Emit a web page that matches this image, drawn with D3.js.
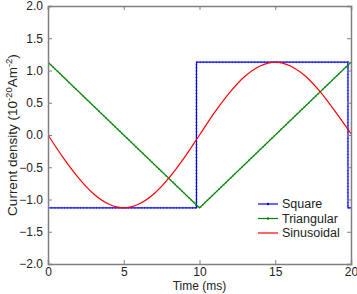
<!DOCTYPE html>
<html>
<head>
<meta charset="utf-8">
<script src="https://cdn.jsdelivr.net/npm/d3@7"></script>
<style>
  body { margin: 0; background: #fff; }
  text { font-family: "Liberation Sans", Arial, sans-serif; fill: #222; }
</style>
</head>
<body>
<svg id="chart" width="357" height="294"></svg>
<script>
// data
var squareT = [0, 9.8, 9.8, 19.8, 19.8, 20];
var squareV = [-1.13, -1.13, 1.13, 1.13, -1.13, -1.13];
var triT = [0, 10, 20];
var triV = [1.13, -1.13, 1.13];
var sinT = [0,1,2,3,4,5,6,7,8,9,10,11,12,13,14,15,16,17,18,19,20];
var sinV = [0,-0.35,-0.66,-0.91,-1.07,-1.13,-1.07,-0.91,-0.66,-0.35,0,0.35,0.66,0.91,1.07,1.13,1.07,0.91,0.66,0.35,0.02];
var xTicks = [0, 5, 10, 15, 20];
var yTicks = [-2, -1.5, -1, -0.5, 0, 0.5, 1, 1.5, 2];
var names = ["Square", "Triangular", "Sinusoidal"];
var colors = ["#0000ff", "#008000", "#ff0000"];

var svg = d3.select("#chart"),
  margin = {top: 6, right: 6, bottom: 30, left: 48},
  width = +svg.attr("width") - margin.left - margin.right,
  height = +svg.attr("height") - margin.top - margin.bottom;

var x = d3.scaleLinear().domain([0, 20]).range([0, width]);
var y = d3.scaleLinear().domain([-2, 2]).range([height, 0]);

var g = svg.append("g").attr("transform", "translate(" + margin.left + "," + margin.top + ")");

// clip
svg.append("defs").append("clipPath").attr("id", "clip")
  .append("rect").attr("width", width).attr("height", height);

var line = d3.line().x(function(d) { return x(d[0]); }).y(function(d) { return y(d[1]); });
var curve = d3.line().curve(d3.curveMonotoneX).x(function(d) { return x(d[0]); }).y(function(d) { return y(d[1]); });

var series = [
  {pts: d3.zip(squareT, squareV), gen: line},
  {pts: d3.zip(triT, triV), gen: line},
  {pts: d3.zip(sinT, sinV), gen: curve}
];

var plot = g.append("g").attr("clip-path", "url(#clip)");
series.forEach(function(s, i) {
  plot.append("path")
    .attr("d", s.gen(s.pts))
    .attr("fill", "none")
    .attr("stroke", colors[i])
    .attr("stroke-width", 1.2);
  if (i < 2) {
    // marker-like dots along the line
    plot.append("path")
      .attr("d", s.gen(s.pts))
      .attr("fill", "none")
      .attr("stroke", colors[i])
      .attr("stroke-opacity", 0.45)
      .attr("stroke-width", 2.4)
      .attr("stroke-dasharray", "1 2.2");
  }
});

// axes box with inward ticks
var axisColor = "#808080";
var ax = [
  g.append("g").attr("transform", "translate(0," + height + ")").call(d3.axisBottom(x).tickValues(xTicks).tickSize(-4).tickPadding(3).tickFormat(d3.format("d"))),
  g.append("g").call(d3.axisTop(x).tickValues(xTicks).tickSize(-4).tickFormat("")),
  g.append("g").call(d3.axisLeft(y).tickValues(yTicks).tickSize(-4).tickPadding(5).tickFormat(d3.format(".1f"))),
  g.append("g").attr("transform", "translate(" + width + ",0)").call(d3.axisRight(y).tickValues(yTicks).tickSize(-4).tickFormat(""))
];
ax.forEach(function(a) {
  a.select(".domain").attr("stroke", axisColor).attr("stroke-width", 1.5);
  a.selectAll(".tick line").attr("stroke", axisColor);
  a.selectAll("text").attr("font-size", 12).attr("fill", "#222");
});

// axis labels
svg.append("text")
  .attr("x", margin.left + width / 2).attr("y", 290)
  .attr("text-anchor", "middle").attr("font-size", 12)
  .text("Time (ms)");

var yl = svg.append("text")
  .attr("transform", "translate(17," + (margin.top + height / 2) + ") rotate(-90)")
  .attr("text-anchor", "middle").attr("font-size", 13.5);
yl.append("tspan").text("Current density (10");
yl.append("tspan").attr("dy", -5).attr("font-size", 9.5).text("-20");
yl.append("tspan").attr("dy", 5).text("Am");
yl.append("tspan").attr("dy", -5).attr("font-size", 9.5).text("-2");
yl.append("tspan").attr("dy", 5).text(")");

// legend
var leg = svg.append("g").attr("transform", "translate(258,204)");
names.forEach(function(n, i) {
  var row = leg.append("g").attr("transform", "translate(0," + (i * 14.5) + ")");
  row.append("line").attr("x1", 0).attr("x2", 20).attr("stroke", colors[i]).attr("stroke-width", 1.2);
  if (i < 2) row.append("circle").attr("cx", 10).attr("r", 1.2).attr("fill", colors[i]);
  row.append("text").attr("x", 24).attr("dy", "0.35em").attr("font-size", 12.5).text(n);
});
</script>
</body>
</html>
